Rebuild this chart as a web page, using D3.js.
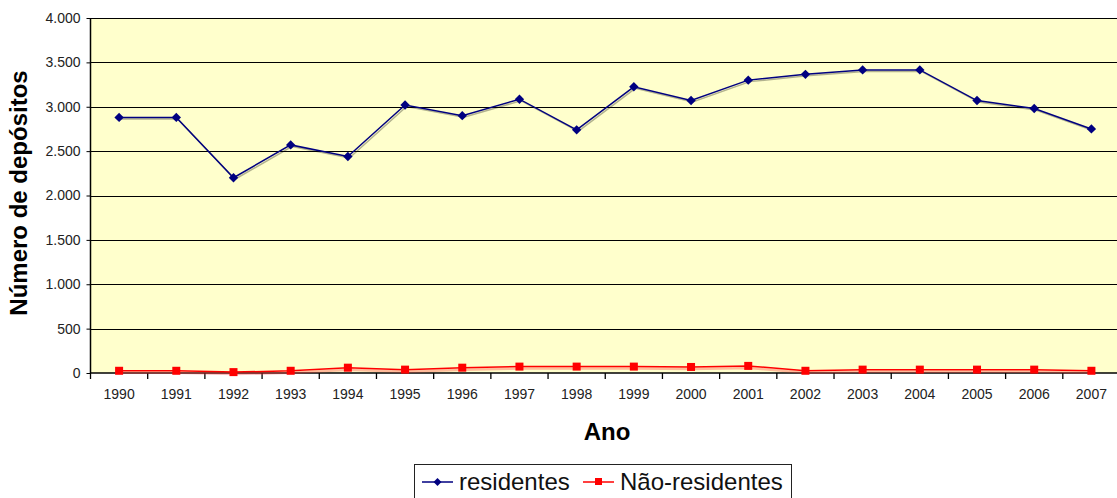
<!DOCTYPE html>
<html>
<head>
<meta charset="utf-8">
<script src="https://cdn.jsdelivr.net/npm/d3@7"></script>
<style>
  body { margin: 0; background: #fff; }
  svg { display: block; font-family: Arial, "Liberation Sans", sans-serif; }
</style>
</head>
<body>
<svg class="chart"></svg>
<script>
var years = ['1990', '1991', '1992', '1993', '1994', '1995', '1996', '1997', '1998',
  '1999', '2000', '2001', '2002', '2003', '2004', '2005', '2006', '2007'];
var residentes = [2880, 2880, 2200, 2570, 2440, 3020, 2900, 3085, 2740,
  3225, 3070, 3300, 3365, 3415, 3415, 3070, 2980, 2750];
var naoResidentes = [25, 25, 10, 25, 60, 38, 60, 72, 72,
  72, 68, 80, 25, 38, 38, 38, 38, 25];
var yTicks = [0, 500, 1000, 1500, 2000, 2500, 3000, 3500, 4000];

var margin = { top: 18, right: -3, bottom: 125, left: 90.5 };
var W = 1117, H = 498;
var width = W - margin.left - margin.right;
var height = H - margin.top - margin.bottom;

var x = d3.scaleBand().domain(years).range([0, width]);
var y = d3.scaleLinear().domain([0, 4000]).range([height, 0]);
var fmt = d3.formatLocale({ decimal: ',', thousands: '.', grouping: [3], currency: ['', ''] }).format(',');

var svg = d3.select('.chart').attr('width', W).attr('height', H);
var chart = svg.append('g')
  .attr('transform', 'translate(' + margin.left + ',' + margin.top + ')');

// plot background
chart.append('rect')
  .attr('width', width).attr('height', height)
  .attr('fill', '#ffffcc');

// gridlines
chart.selectAll('.grid')
  .data(yTicks.filter(d => d > 0))
  .enter().append('line')
  .attr('x1', 0).attr('x2', width)
  .attr('y1', d => Math.round(y(d)) + 0.5).attr('y2', d => Math.round(y(d)) + 0.5)
  .attr('stroke', '#000').attr('stroke-width', 1.2);

// Y axis
var yAxis = d3.axisLeft(y).tickValues(yTicks).tickSize(4).tickPadding(6).tickFormat(fmt);
var gy = chart.append('g').attr('class', 'y axis').call(yAxis);
gy.select('.domain').remove();
gy.selectAll('.tick line').attr('stroke', '#000');
gy.selectAll('text').attr('font-size', 14).attr('fill', '#222').attr('font-family', 'Arial, "Liberation Sans", sans-serif');
chart.append('line')
  .attr('x1', 0).attr('x2', 0).attr('y1', 0).attr('y2', height)
  .attr('stroke', '#000').attr('stroke-width', 1.5);

// X axis
var xAxis = d3.axisBottom(x).tickSize(0).tickPadding(16);
var gx = chart.append('g').attr('class', 'x axis')
  .attr('transform', 'translate(0,' + height + ')')
  .call(xAxis);
gx.select('.domain').remove();
gx.selectAll('text').attr('font-size', 14).attr('fill', '#222').attr('font-family', 'Arial, "Liberation Sans", sans-serif');
gx.selectAll('.edge')
  .data(years)
  .enter().append('line')
  .attr('x1', d => x(d)).attr('x2', d => x(d))
  .attr('y1', 0).attr('y2', 6)
  .attr('stroke', '#000').attr('stroke-width', 1.3);
gx.append('line')
  .attr('x1', 0).attr('x2', width).attr('y1', 0).attr('y2', 0)
  .attr('stroke', '#000').attr('stroke-width', 1.5);

var cx = d => x(d) + x.bandwidth() / 2;
var line = d3.line().x(d => cx(d[0])).y(d => y(d[1]));
var resData = d3.zip(years, residentes);
var naoData = d3.zip(years, naoResidentes);

// shadows
chart.append('path').datum(resData).attr('d', line)
  .attr('transform', 'translate(1.5,1.5)')
  .attr('fill', 'none').attr('stroke', 'rgba(0,0,0,0.3)').attr('stroke-width', 1.5);
chart.append('path').datum(naoData).attr('d', line)
  .attr('transform', 'translate(1,2)')
  .attr('fill', 'none').attr('stroke', 'rgba(255,60,60,0.35)').attr('stroke-width', 2.5);

// series lines
chart.append('path').datum(resData).attr('d', line)
  .attr('fill', 'none').attr('stroke', '#000080').attr('stroke-width', 1.5);
chart.append('path').datum(naoData).attr('d', line)
  .attr('fill', 'none').attr('stroke', '#ff0000').attr('stroke-width', 1.5);

// markers
chart.selectAll('.dia')
  .data(resData)
  .enter().append('path')
  .attr('d', d3.symbol(d3.symbolDiamond2, 56))
  .attr('transform', d => 'translate(' + cx(d[0]) + ',' + y(d[1]) + ')')
  .attr('fill', '#000080');
chart.selectAll('.sq')
  .data(naoData)
  .enter().append('rect')
  .attr('x', d => cx(d[0]) - 4).attr('y', d => y(d[1]) - 4)
  .attr('width', 8).attr('height', 8)
  .attr('fill', '#ff0000');

// axis titles
svg.append('text')
  .attr('x', 607).attr('y', 440)
  .attr('text-anchor', 'middle')
  .attr('font-size', 24).attr('font-weight', 'bold')
  .text('Ano');
svg.append('text')
  .attr('transform', 'translate(27,193) rotate(-90)')
  .attr('text-anchor', 'middle')
  .attr('font-size', 24).attr('font-weight', 'bold')
  .text('Número de depósitos');

// legend
var legend = svg.append('g');
legend.append('rect')
  .attr('x', 414.5).attr('y', 464.5).attr('width', 377).attr('height', 40)
  .attr('fill', '#fff').attr('stroke', '#222').attr('stroke-width', 1);
legend.append('line').attr('x1', 422).attr('x2', 453).attr('y1', 482).attr('y2', 482)
  .attr('stroke', '#000080').attr('stroke-width', 1.5);
legend.append('path').attr('d', d3.symbol(d3.symbolDiamond2, 40))
  .attr('transform', 'translate(437.5,482)').attr('fill', '#000080');
legend.append('text').attr('x', 459).attr('y', 490).attr('font-size', 24).attr('fill', '#111').text('residentes');
legend.append('line').attr('x1', 583).attr('x2', 614).attr('y1', 482).attr('y2', 482)
  .attr('stroke', '#ff0000').attr('stroke-width', 1.5);
legend.append('rect').attr('x', 595).attr('y', 478).attr('width', 7).attr('height', 7).attr('fill', '#ff0000');
legend.append('text').attr('x', 620).attr('y', 490).attr('font-size', 24).attr('fill', '#111').text('Não-residentes');
</script>
</body>
</html>
